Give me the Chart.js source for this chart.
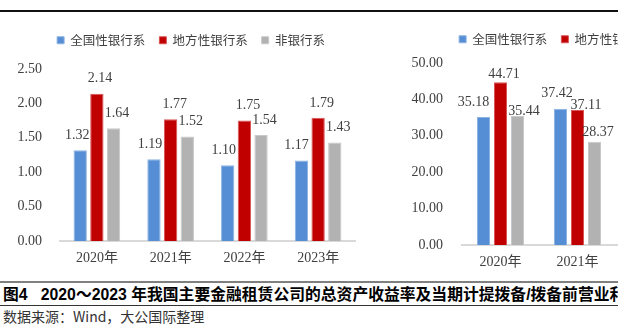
<!DOCTYPE html>
<html>
<head>
<meta charset="utf-8">
<script src="https://cdn.jsdelivr.net/npm/chart.js@4.4.1/dist/chart.umd.min.js"></script>
<style>
  html, body { margin:0; padding:0; background:#fff; width:618px; height:325px; overflow:hidden; }
  body { position:relative; }
  .rule-top { position:absolute; left:0; top:10px; width:618px; height:2px; background:#111; }
  .rule-gray { position:absolute; left:0; top:281px; width:618px; height:2px; background:#808080; }
  .rule-cap { position:absolute; left:0; top:305px; width:618px; height:1px; background:#333; }
  .caption { position:absolute; left:3px; top:286px; white-space:nowrap; font:bold 15.8px "Liberation Sans","Noto Sans CJK SC",sans-serif; line-height:18px; color:#000; }
  .source { position:absolute; left:3px; top:308px; white-space:nowrap; font:14px "Noto Sans CJK SC",sans-serif; line-height:16px; color:#333; }
  #wrapL { position:absolute; left:0; top:0; width:382px; height:271px; }
  #wrapR { position:absolute; left:400px; top:0; width:370px; height:275px; }
</style>
</head>
<body>
<div class="rule-top"></div>
<div id="wrapL"><canvas id="cL"></canvas></div>
<div id="wrapR"><canvas id="cR"></canvas></div>
<div class="rule-gray"></div>
<div class="caption">图4&nbsp;&nbsp; 2020～2023 年我国主要金融租赁公司的总资产收益率及当期计提拨备/拨备前营业利润</div>
<div class="rule-cap"></div>
<div class="source">数据来源：Wind，大公国际整理</div>
<script>
// ---- data ----
const years = ['2020年', '2021年', '2022年', '2023年'];
const seriesNames = ['全国性银行系', '地方性银行系', '非银行系'];
// Left chart: 总资产收益率 (%)
const roaNational = [1.32, 1.19, 1.10, 1.17];
const roaLocal    = [2.14, 1.77, 1.75, 1.79];
const roaNonBank  = [1.64, 1.52, 1.54, 1.43];
const roaTicks    = [0, 0.5, 1.0, 1.5, 2.0, 2.5];
// Right chart: 当期计提拨备/拨备前营业利润 (%) — only 2020/2021 visible in the source picture
const provNational = [35.18, 37.42, null, null];
const provLocal    = [44.71, 37.11, null, null];
const provNonBank  = [35.44, 28.37, null, null];
const provTicks    = [0, 10, 20, 30, 40, 50];

const colors = ['#558ED5', '#C00000', '#B2B2B2'];
const borders = ['#8DB3E2', '#D95555', '#C8C8C8'];
const numFont = "'Liberation Serif','Noto Sans CJK SC',serif";
const textColor = '#404040';

const legendSpace = {
  id: 'legendSpace',
  beforeLayout(chart, args, opts) {
    const lg = chart.legend;
    if (lg && !lg._patched) {
      const fit = lg.fit;
      lg.fit = function () { fit.call(this); this.height = opts.height; };
      lg._patched = true;
    }
  },
  afterLayout(chart, args, opts) {
    const lg = chart.legend;
    if (lg) { lg.left += opts.dx; lg.right += opts.dx; }
  }
};

const valueLabels = {
  id: 'valueLabels',
  afterDatasetsDraw(chart, args, opts) {
    const ctx = chart.ctx;
    ctx.save();
    ctx.font = '14px ' + numFont;
    ctx.fillStyle = textColor;
    ctx.textAlign = 'center';
    ctx.textBaseline = 'middle';
    chart.data.datasets.forEach((ds, di) => {
      const meta = chart.getDatasetMeta(di);
      meta.data.forEach((el, i) => {
        const v = ds.data[i];
        if (v === null || v === undefined) return;
        const sh = (opts.shift && opts.shift[di] && opts.shift[di][i]) || [0, 15];
        ctx.fillText(v.toFixed(2), el.x + sh[0], el.y - sh[1]);
      });
    });
    ctx.restore();
  }
};

function makeChart(id, vals, ticks, cfg) {
  const datasets = vals.map((d, k) => ({
    label: seriesNames[k],
    data: d,
    backgroundColor: colors[k],
    borderColor: borders[k],
    borderWidth: 1,
    borderSkipped: 'bottom',
    categoryPercentage: cfg.cp,
    barPercentage: cfg.bp
  }));
  return new Chart(document.getElementById(id), {
    type: 'bar',
    data: { labels: years, datasets },
    plugins: [legendSpace, valueLabels],
    options: {
      responsive: true,
      maintainAspectRatio: false,
      animation: false,
      layout: { padding: { top: cfg.padTop, left: 0, right: cfg.padRight, bottom: 0 } },
      plugins: {
        legend: {
          position: 'top',
          labels: {
            boxWidth: 7, boxHeight: 7, padding: 14, color: textColor,
            font: { family: "'Noto Sans CJK SC',sans-serif", size: 12.5 }
          }
        },
        tooltip: { enabled: false },
        legendSpace: { height: cfg.legendH, dx: cfg.legendDx },
        valueLabels: { shift: cfg.shift }
      },
      scales: {
        x: {
          grid: { display: false, drawTicks: false },
          border: { display: true, color: '#D9D9D9', width: 2 },
          ticks: { color: textColor, padding: 9, font: { family: numFont, size: 14 } },
          afterFit(s) { s.height = 30; }
        },
        y: {
          min: ticks[0], max: ticks[ticks.length - 1],
          grid: { display: false, drawTicks: false },
          border: { display: false },
          afterBuildTicks(s) { s.ticks = ticks.map(v => ({ value: v })); },
          ticks: {
            color: textColor, padding: cfg.tickPad,
            font: { family: numFont, size: 14 },
            callback: v => Number(v).toFixed(2)
          },
          afterFit(s) { s.width = cfg.yWidth; }
        }
      }
    }
  });
}

makeChart('cL', [roaNational, roaLocal, roaNonBank], roaTicks, {
  cp: 0.678, bp: 0.8, padTop: 20, padRight: 27, legendH: 49, legendDx: 13.5,
  yWidth: 60, tickPad: 18,
  shift: [
    [[-3, 15], [-4, 15], [-4, 15], [-5, 15]],
    [[3, 15], [4, 15], [3.5, 15], [3.5, 15]],
    [[3.5, 15], [3.5, 15], [3.5, 15], [3.5, 15]]
  ]
});

makeChart('cR', [provNational, provLocal, provNonBank], provTicks, {
  cp: 0.662, bp: 0.765, padTop: 19, padRight: 0, legendH: 44, legendDx: 8,
  yWidth: 62, tickPad: 19,
  shift: [
    [[-10, 15], [-3.5, 15]],
    [[3.5, 8], [8.5, 5]],
    [[6.5, 5], [3.5, 9]]
  ]
});
</script>
</body>
</html>
